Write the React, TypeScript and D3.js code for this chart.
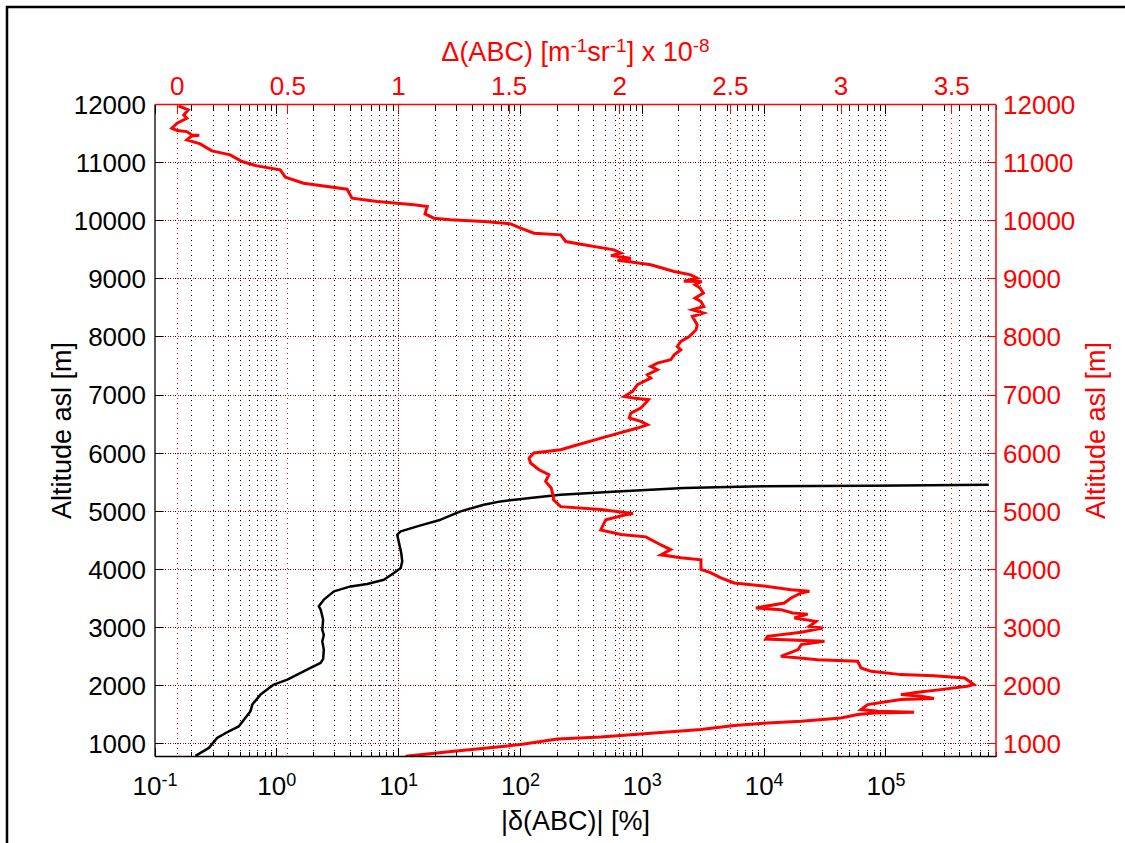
import React from "react";
import * as d3 from "d3";

// |δ(ABC)| [%] profile (black, bottom log axis)
const blackAlt = [790, 928, 1100, 1214, 1300, 1558, 1673, 1845, 2017, 2103, 2304, 2390, 2459, 2619, 2762, 2870, 2963, 3134, 3307, 3364, 3479, 3622, 3707, 3749, 3823, 3938, 4024, 4138, 4282, 4482, 4597, 4654, 4740, 4855, 4998, 5113, 5170, 5230, 5285, 5342, 5400, 5428, 5440, 5457];
const blackVal = [0.215, 0.277, 0.324, 0.404, 0.488, 0.608, 0.628, 0.735, 0.944, 1.22, 1.89, 2.29, 2.4, 2.43, 2.36, 2.43, 2.36, 2.4, 2.29, 2.21, 2.43, 2.94, 4.03, 5.52, 7.57, 9.14, 10.4, 10.7, 10.5, 10.0, 9.73, 10.4, 14.2, 22.1, 32.2, 50, 68.7, 120, 213, 623, 2190, 7740, 74800, 697000];

// Δ(ABC) x 1e-8 [m^-1 sr^-1] profile (red, top linear axis)
const redAlt = [11976, 11907, 11821, 11764, 11678, 11592, 11551, 11534, 11477, 11470, 11460, 11391, 11322, 11202, 11133, 11018, 10944, 10875, 10750, 10646, 10543, 10388, 10330, 10273, 10244, 10118, 10044, 10015, 9986, 9946, 9872, 9786, 9757, 9642, 9585, 9499, 9442, 9400, 9356, 9320, 9298, 9241, 9126, 9069, 9012, 8960, 8954, 8900, 8840, 8754, 8668, 8610, 8524, 8467, 8410, 8352, 8209, 8123, 8008, 7922, 7836, 7779, 7693, 7607, 7550, 7492, 7435, 7349, 7292, 7177, 7062, 6976, 6950, 6919, 6862, 6776, 6690, 6604, 6546, 6489, 6432, 6288, 6145, 6059, 6002, 5916, 5830, 5715, 5629, 5514, 5400, 5256, 5200, 5080, 5030, 4960, 4940, 4855, 4680, 4600, 4560, 4420, 4340, 4250, 4200, 4165, 4000, 3939, 3853, 3767, 3720, 3651, 3622, 3594, 3508, 3422, 3336, 3307, 3250, 3230, 3164, 3106, 3020, 2992, 2917, 2848, 2800, 2762, 2705, 2619, 2504, 2447, 2418, 2304, 2246, 2189, 2171, 2132, 2017, 1988, 1931, 1885, 1845, 1816, 1780, 1759, 1673, 1587, 1558, 1541, 1530, 1501, 1444, 1386, 1358, 1312, 1243, 1117, 1083, 985, 870, 784];
const redVal = [0.006, 0.05, 0.03, 0.044, 0.0, -0.024, 0.0, 0.044, 0.066, 0.1, 0.066, 0.044, 0.104, 0.157, 0.24, 0.293, 0.36, 0.466, 0.489, 0.571, 0.768, 0.79, 0.904, 1.07, 1.13, 1.12, 1.16, 1.235, 1.386, 1.507, 1.552, 1.612, 1.733, 1.756, 1.838, 1.974, 2.005, 1.96, 2.05, 1.99, 2.035, 2.14, 2.246, 2.321, 2.35, 2.29, 2.37, 2.34, 2.363, 2.378, 2.34, 2.367, 2.38, 2.328, 2.378, 2.328, 2.35, 2.345, 2.314, 2.276, 2.26, 2.276, 2.246, 2.23, 2.17, 2.14, 2.17, 2.125, 2.14, 2.08, 2.058, 2.02, 2.06, 2.13, 2.117, 2.095, 2.05, 2.043, 2.095, 2.125, 2.08, 1.944, 1.81, 1.733, 1.612, 1.59, 1.597, 1.635, 1.68, 1.665, 1.69, 1.7, 1.7, 1.733, 1.914, 2.06, 2.027, 1.937, 1.914, 2.005, 2.118, 2.186, 2.23, 2.186, 2.276, 2.367, 2.367, 2.412, 2.457, 2.517, 2.638, 2.774, 2.857, 2.82, 2.774, 2.744, 2.615, 2.728, 2.781, 2.849, 2.789, 2.887, 2.857, 2.917, 2.82, 2.668, 2.66, 2.925, 2.82, 2.806, 2.728, 2.894, 3.075, 3.09, 3.136, 3.27, 3.42, 3.558, 3.6, 3.57, 3.45, 3.346, 3.27, 3.36, 3.42, 3.27, 3.12, 3.09, 3.166, 3.33, 3.15, 3.075, 3.0, 2.82, 2.668, 2.517, 2.367, 1.914, 1.718, 1.552, 1.25, 1.032];

// Axis ticks
const altTicks = [1000, 2000, 3000, 4000, 5000, 6000, 7000, 8000, 9000, 10000, 11000, 12000];
const topTicks = [0, 0.5, 1, 1.5, 2, 2.5, 3, 3.5];
const topTickLabels = ["0", "0.5", "1", "1.5", "2", "2.5", "3", "3.5"];
const logExponents = [-1, 0, 1, 2, 3, 4, 5];

const W = 1125;
const H = 843;
const L = 155;
const R = 996;
const T = 104.5;
const B = 756.5;

const font = "'Liberation Sans', Arial, Helvetica, sans-serif";
const RED = "#ff0000";

// snap a coordinate to the pixel grid so 1px lines stay crisp
const px = (v: number) => Math.round(v - 0.5) + 0.5;

export default function App() {
  const xLog = d3.scaleLog().domain([0.1, 8e5]).range([L, R]);
  const xTop = d3.scaleLinear().domain([-0.1, 3.7]).range([L, R]);
  const y = d3.scaleLinear().domain([780, 12000]).range([B, T]);

  // all decade + minor positions on the log axis
  const logAll: { v: number; major: boolean }[] = [];
  logExponents.forEach((e) => {
    for (let m = 1; m <= 9; m++) {
      const v = m * Math.pow(10, e);
      if (v >= 0.1 && v <= 8e5 * 1.0001) logAll.push({ v, major: m === 1 });
    }
  });

  const blackLine = d3
    .line<number>()
    .x((_, i) => xLog(blackVal[i]))
    .y((a) => y(a))(blackAlt) as string;

  const redLine = d3
    .line<number>()
    .x((_, i) => xTop(redVal[i]))
    .y((a) => y(a))(redAlt) as string;

  const dot = "1 4";

  return (
    <div style={{ position: "absolute", left: 0, top: 0 }}>
      <svg width={W} height={H} style={{ display: "block", background: "#fff" }}>
        <rect x={0} y={0} width={W} height={H} fill="#fff" />
        {/* outer frame */}
        <rect x={7} y={7} width={W + 20} height={H + 20} fill="none" stroke="#000" strokeWidth={2.5} />

        <defs>
          <clipPath id="plot">
            <rect x={L} y={T} width={R - L} height={B - T} />
          </clipPath>
        </defs>

        {/* grid: log axis (black dotted) */}
        {logAll
          .filter((d) => xLog(d.v) > L + 0.5 && xLog(d.v) < R - 0.5)
          .map((d, i) => (
            <line key={"gl" + i} x1={px(xLog(d.v))} x2={px(xLog(d.v))} y1={T} y2={B} stroke="#000" strokeWidth={1} strokeDasharray={dot} shapeRendering="crispEdges" />
          ))}
        {/* grid: top linear axis (red dotted) */}
        {topTicks.map((t, i) => (
          <line key={"gt" + i} x1={px(xTop(t))} x2={px(xTop(t))} y1={T} y2={B} stroke={RED} strokeWidth={1} strokeDasharray={dot} strokeDashoffset={2} shapeRendering="crispEdges" />
        ))}
        {/* grid: altitude (black + red dotted) */}
        {altTicks
          .filter((a) => a < 12000)
          .map((a, i) => (
            <g key={"ga" + i} shapeRendering="crispEdges">
              <line x1={L} x2={R} y1={px(y(a))} y2={px(y(a))} stroke="#000" strokeWidth={1} strokeDasharray={dot} />
              <line x1={L} x2={R} y1={px(y(a))} y2={px(y(a))} stroke={RED} strokeWidth={1} strokeDasharray={dot} strokeDashoffset={2} />
            </g>
          ))}

        {/* data */}
        <g clipPath="url(#plot)">
          <path d={blackLine} fill="none" stroke="#000" strokeWidth={2.5} strokeLinejoin="round" />
          <path d={redLine} fill="none" stroke={RED} strokeWidth={3} strokeLinejoin="miter" />
        </g>

        {/* log axis ticks, bottom and top (black) */}
        <g shapeRendering="crispEdges">
          {logAll.map((d, i) => {
            const len = d.major ? 9 : 5;
            const x = px(xLog(d.v));
            return (
              <g key={"tk" + i}>
                <line x1={x} x2={x} y1={B} y2={B - len} stroke="#000" strokeWidth={1} />
                <line x1={x} x2={x} y1={T} y2={T + len} stroke="#000" strokeWidth={1} />
              </g>
            );
          })}
          {/* left ticks (black) and right ticks (red) */}
          {altTicks.map((a, i) => (
            <g key={"ya" + i}>
              <line x1={L} x2={L + 8} y1={px(y(a))} y2={px(y(a))} stroke="#000" strokeWidth={1} />
              <line x1={R} x2={R - 9} y1={px(y(a))} y2={px(y(a))} stroke={RED} strokeWidth={1} />
            </g>
          ))}
          {/* top ticks (red) */}
          {topTicks.map((t, i) => (
            <line key={"tt" + i} x1={px(xTop(t))} x2={px(xTop(t))} y1={T} y2={T + 8} stroke={RED} strokeWidth={1} />
          ))}
        </g>

        {/* axis lines */}
        <line x1={L} x2={L} y1={T} y2={B} stroke="#000" strokeWidth={1.3} />
        <line x1={L} x2={R} y1={B} y2={B} stroke="#000" strokeWidth={1.3} />
        <line x1={L} x2={R} y1={T} y2={T} stroke={RED} strokeWidth={1.5} />
        <line x1={R} x2={R} y1={T} y2={B} stroke={RED} strokeWidth={1.5} />

        {/* left tick labels */}
        {altTicks.map((a, i) => (
          <text key={"yl" + i} x={146} y={y(a)} dy="0.36em" textAnchor="end" fontFamily={font} fontSize={26} fill="#000">
            {a}
          </text>
        ))}
        {/* right tick labels */}
        {altTicks.map((a, i) => (
          <text key={"yr" + i} x={1003} y={y(a)} dy="0.36em" textAnchor="start" fontFamily={font} fontSize={26} fill={RED}>
            {a}
          </text>
        ))}
        {/* top tick labels */}
        {topTicks.map((t, i) => (
          <text key={"xt" + i} x={xTop(t)} y={95} textAnchor="middle" fontFamily={font} fontSize={26} fill={RED}>
            {topTickLabels[i]}
          </text>
        ))}
        {/* bottom tick labels: 10^k */}
        {logExponents.map((e) => (
          <text key={"xb" + e} x={xLog(Math.pow(10, e))} y={795} textAnchor="middle" fontFamily={font} fontSize={26} fill="#000">
            <tspan>10</tspan>
            <tspan dy={-9} fontSize={18}>{String(e)}</tspan>
          </text>
        ))}

        {/* axis titles */}
        <text x={(L + R) / 2} y={830} textAnchor="middle" fontFamily={font} fontSize={27} fill="#000">
          |δ(ABC)| [%]
        </text>
        <text x={(L + R) / 2} y={61} textAnchor="middle" fontFamily={font} fontSize={27} fill={RED}>
          <tspan>Δ(ABC) [m</tspan>
          <tspan dy={-9} fontSize={19}>-1</tspan>
          <tspan dy={9}>sr</tspan>
          <tspan dy={-9} fontSize={19}>-1</tspan>
          <tspan dy={9}>] x 10</tspan>
          <tspan dy={-9} fontSize={19}>-8</tspan>
        </text>
        <text transform={`translate(71, ${(T + B) / 2}) rotate(-90)`} textAnchor="middle" fontFamily={font} fontSize={27} fill="#000">
          Altitude asl [m]
        </text>
        <text transform={`translate(1105, ${(T + B) / 2}) rotate(-90)`} textAnchor="middle" fontFamily={font} fontSize={27} fill={RED}>
          Altitude asl [m]
        </text>
      </svg>
    </div>
  );
}
